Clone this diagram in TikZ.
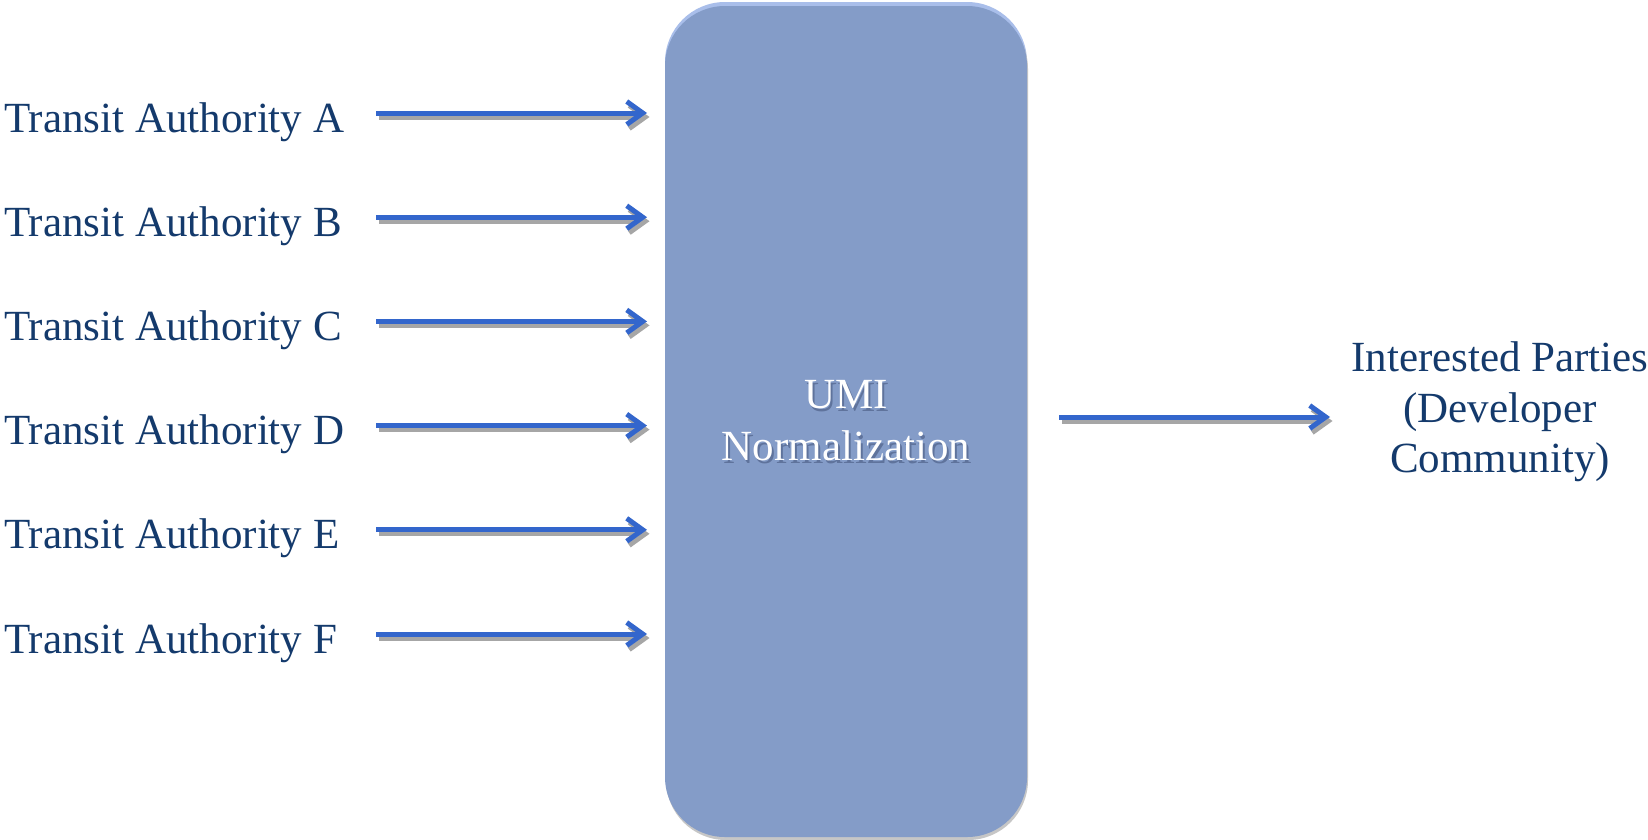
\documentclass[tikz,border=0pt]{standalone}
\usepackage{fontspec}
\setmainfont{Liberation Serif}
\usetikzlibrary{arrows.meta,shadows}
\definecolor{txtblue}{HTML}{143A6C}
\definecolor{boxfill}{HTML}{849CC8}
\definecolor{boxhl}{HTML}{A9BEEA}
\definecolor{boxsh}{HTML}{C6C6C6}
\definecolor{arrblue}{HTML}{3366CC}
\definecolor{arrsh}{HTML}{A6A6A6}
\definecolor{umish}{HTML}{5F739C}
\newcommand\shtxt[1]{\makebox[0pt][l]{\kern2pt\raisebox{-3pt}{\textcolor{umish}{#1}}}#1}
\tikzset{
  lbl/.style={font=\fontsize{43}{50.5}\selectfont, text=txtblue, inner sep=0pt},
  flow/.style={line width=5pt, draw=arrblue, -{Straight Barb[length=16pt,width=23pt]}},
  flowsh/.style={line width=5pt, draw=arrsh, -{Straight Barb[length=16pt,width=23pt]}},
  umibox/.style={fill=boxfill, rounded corners=60pt, minimum width=362pt, minimum height=831pt, inner sep=0pt,
    general shadow={shadow yshift=4pt, fill=boxhl},
    general shadow={shadow xshift=1pt, shadow yshift=-3pt, fill=boxsh}},
}
\begin{document}
\begin{tikzpicture}[x=1pt,y=-1pt]
\useasboundingbox[fill=white] (0,0) rectangle (1648,839);
% central box
\node[umibox] (umi) at (846,421.5) {};
\node[font=\fontsize{43}{52}\selectfont, text=white, align=center, inner sep=0pt, anchor=base] (umitxt) at (846,460)
  {\shtxt{UMI}\\\shtxt{Normalization}};
% left sources
\foreach \l [count=\i from 0] in {A,B,C,D,E,F} {
  \pgfmathsetmacro\yy{113+104.2*\i}
  \node[lbl, anchor=base west] (t\l) at (4,\yy+19) {Transit Authority \l};
  \coordinate (s\l) at (376,\yy);
  \coordinate (e\l) at (647,\yy);
  \draw[flowsh] ([shift={(2.5,4)}]s\l) -- ([shift={(2.5,4)}]e\l);
  \draw[flow] (s\l) -- (e\l);
}
% output
\coordinate (so) at (1059,417);
\coordinate (eo) at (1330,417);
\draw[flowsh] ([shift={(2.5,4)}]so) -- ([shift={(2.5,4)}]eo);
\draw[flow] (so) -- (eo);
\node[lbl, align=center, anchor=base] (ip) at (1500,472.5) {Interested Parties\\(Developer\\Community)};
\end{tikzpicture}
\end{document}
